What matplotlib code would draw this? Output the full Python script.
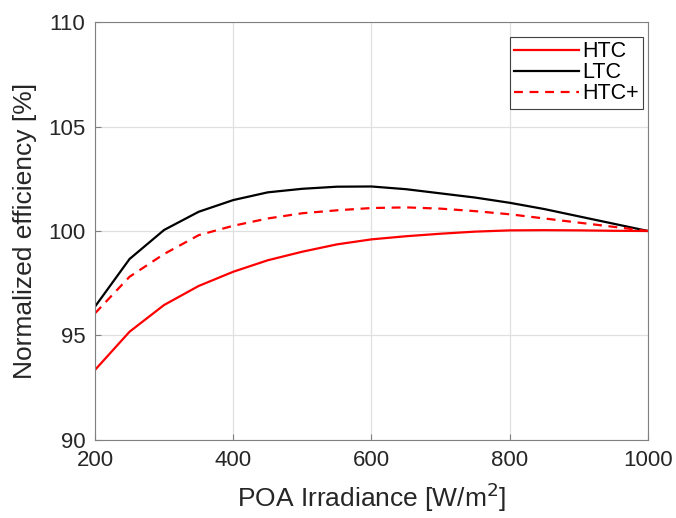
import numpy as np
import matplotlib.pyplot as plt

plt.rcParams['font.family'] = ['Liberation Sans', 'DejaVu Sans']

irradiance = [200, 250, 300, 350, 400, 450, 500, 550, 600, 650, 700, 750, 800, 850, 900, 950, 1000]
htc = [93.35, 95.18, 96.46, 97.37, 98.05, 98.6, 99.01, 99.36, 99.6, 99.75, 99.87, 99.97, 100.03, 100.04, 100.03, 100.01, 100.0]
ltc = [96.38, 98.66, 100.05, 100.92, 101.48, 101.85, 102.02, 102.12, 102.13, 102.0, 101.8, 101.6, 101.35, 101.05, 100.7, 100.35, 100.0]
htc_plus = [96.06, 97.81, 98.9, 99.8, 100.25, 100.6, 100.85, 100.99, 101.1, 101.13, 101.07, 100.95, 100.8, 100.6, 100.4, 100.2, 100.0]

fig = plt.figure(figsize=(6.76, 5.18), dpi=100)
ax = fig.add_axes([0.1405, 0.1506, 0.8181, 0.8069])

ax.plot(irradiance, htc, color="#ff0000", lw=1.6, label="HTC")
ax.plot(irradiance, ltc, color="black", lw=1.6, label="LTC")
ax.plot(irradiance, htc_plus, color="#ff0000", lw=1.6, ls=(0, (4, 3)), label="HTC+")

ax.set_xlim(200, 1000)
ax.set_ylim(90, 110)
ax.set_xticks([200, 400, 600, 800, 1000])
ax.set_yticks([90, 95, 100, 105, 110])
ax.grid(True, color="#e0e0e0", lw=0.9)
ax.set_axisbelow(True)
ax.tick_params(direction="in", labelsize=16, labelcolor="#262626", color="#808080", length=4, pad=7)
for s in ax.spines.values():
    s.set_color("#808080")

ax.set_xlabel("POA Irradiance [W/m$^2$]", fontsize=19, color="#262626", labelpad=7)
ax.set_ylabel("Normalized efficiency [%]", fontsize=19, color="#262626", labelpad=8)

leg = ax.legend(loc="upper right", bbox_to_anchor=(0.991, 0.964), fontsize=15.5,
                fancybox=False, framealpha=1, edgecolor="#404040",
                handlelength=3.0, handletextpad=0.15, borderpad=0.2,
                labelspacing=0.0, borderaxespad=0)
leg.get_frame().set_linewidth(0.8)

fig.savefig("out.png", dpi=100)
